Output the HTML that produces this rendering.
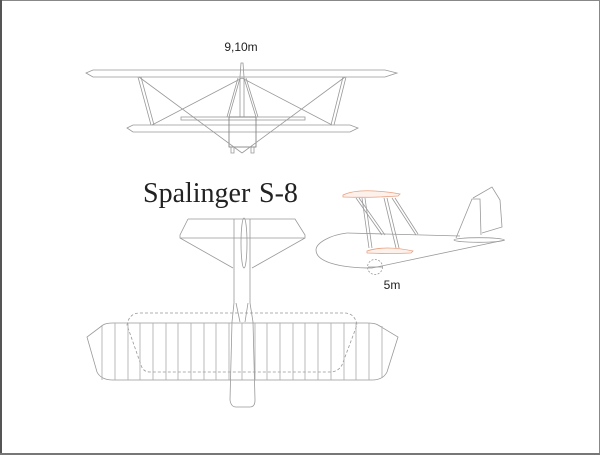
<!DOCTYPE html>
<html><head><meta charset="utf-8"><style>
html,body{margin:0;padding:0;background:#fff}
svg{display:block}
</style></head><body>
<svg width="600" height="455" viewBox="0 0 600 455" xmlns="http://www.w3.org/2000/svg">
<rect x="0.5" y="0.5" width="599" height="454" fill="#fff" stroke="#888" stroke-width="1"/>
<line x1="1" y1="0" x2="1" y2="455" stroke="#555" stroke-width="2"/>
<line x1="0" y1="454" x2="600" y2="454" stroke="#777" stroke-width="2"/>
<g fill="none" stroke="#999" stroke-width="0.8">
<!-- front view -->
<polygon points="86,73 93,70 385,70 397,73 385,77 93,77"/>
<polygon points="127,128 133,125 350,125 358,128 350,132 133,132"/>
<rect x="181" y="117" width="124" height="3"/>
<rect x="229" y="117" width="27" height="30" stroke="#777"/>
<path d="M240,77 L241,63 L243,63 L244,77"/>
<path d="M240,77 L240,117 M244,77 L244,117"/>
<path d="M240,78 L229,117 M244,78 L256,117 M238,78 L227,117 M246,78 L258,117"/>
<path d="M138,77 L151,125 M141,77 L154,125 M343,77 L331,125 M346,77 L334,125"/>
<path d="M242,78 L152,125 M242,78 L332,125 M139,77 L242,153 M345,77 L242,153"/>
<path d="M231,147 L231,153 L234,153 L234,147 M251,147 L251,153 L254,153 L254,147"/>
<!-- side view -->
<path d="M347,233 C330,235 316,243 316,250 C316,262 340,268 372,268 L505,240"/>
<path d="M347,233 L460,236"/>
<circle cx="375" cy="267" r="7.5" stroke-dasharray="2,1.5"/>
<path d="M368,267 L382,267"/>
<path d="M362,198 L369,248 M365,198 L372,248 M384,198 L396,248 M387,198 L399,248"/>
<path d="M356,198 L382,235 M359,198 L385,235 M392,198 L416,235 M395,198 L418,234"/>
<path d="M456,238 L472,199 L480,199 L481,235"/>
<path d="M473,198 L492,187 L500,200 L502,227 L482,233"/>
<ellipse cx="479" cy="240" rx="25" ry="2.3"/>
<!-- top view -->
<path d="M188,219 L295,219 L305,235 L305,238 L252,268 M188,219 L180,235 L180,238 L233,268 M180,238 L305,238"/>
<path d="M234,219 L234,303 L232,322 M250,219 L250,303 L253,322 M236,303 L240,322 M248,303 L245,322"/>
<ellipse cx="244" cy="243" rx="3" ry="25"/>
<path d="M232,322 L230,400 Q231,407 236,407 L250,407 Q255,407 255,400 L253,322"/>
<path d="M113,323 L367,323 Q375,323 378,325 L398,337 L387,372 Q383,380 372,380 L113,380 Q101,380 97,372 L87,337 L103,325 Q106,323 113,323 Z"/>
<path d="M140,313 L344,313 Q355,313 357,325 L342,365 Q338,372 330,372 L150,372 Q143,372 141,365 L127,325 Q129,313 140,313 Z" stroke-dasharray="3,2"/>
<g stroke="#aaa">
<path d="M102,325 V380 M115,323 V380 M128,323 V380 M140,323 V380 M153,323 V380 M166,323 V380 M178,323 V380 M191,323 V380 M204,323 V380 M216,323 V380 M229,323 V380 M242,323 V380 M255,323 V380 M267,323 V380 M280,323 V380 M293,323 V380 M305,323 V380 M318,323 V380 M331,323 V380 M344,323 V380 M356,323 V380 M369,323 V380 M382,326 V378"/>
</g>
</g>
<!-- orange wings -->
<path d="M343,195 Q360,187 400,194 L398,196 Q370,198 343,197 Z" fill="#fdf1ec" stroke="#e8a080" stroke-width="0.8"/>
<path d="M367,251 Q385,245 413,251 L411,253 Q390,254 367,253 Z" fill="#fdf1ec" stroke="#e8a080" stroke-width="0.8"/>
<text x="241" y="51" font-family="Liberation Sans, sans-serif" font-size="12" text-anchor="middle" fill="#222">9,10m</text>
<text x="392" y="289" font-family="Liberation Sans, sans-serif" font-size="12" text-anchor="middle" fill="#222">5m</text>
<text x="143" y="202" font-family="Liberation Serif, serif" font-size="28" fill="#222">Spalinger</text>
<text x="259" y="202" font-family="Liberation Serif, serif" font-size="28" fill="#222">S-8</text>
</svg>
</body></html>
